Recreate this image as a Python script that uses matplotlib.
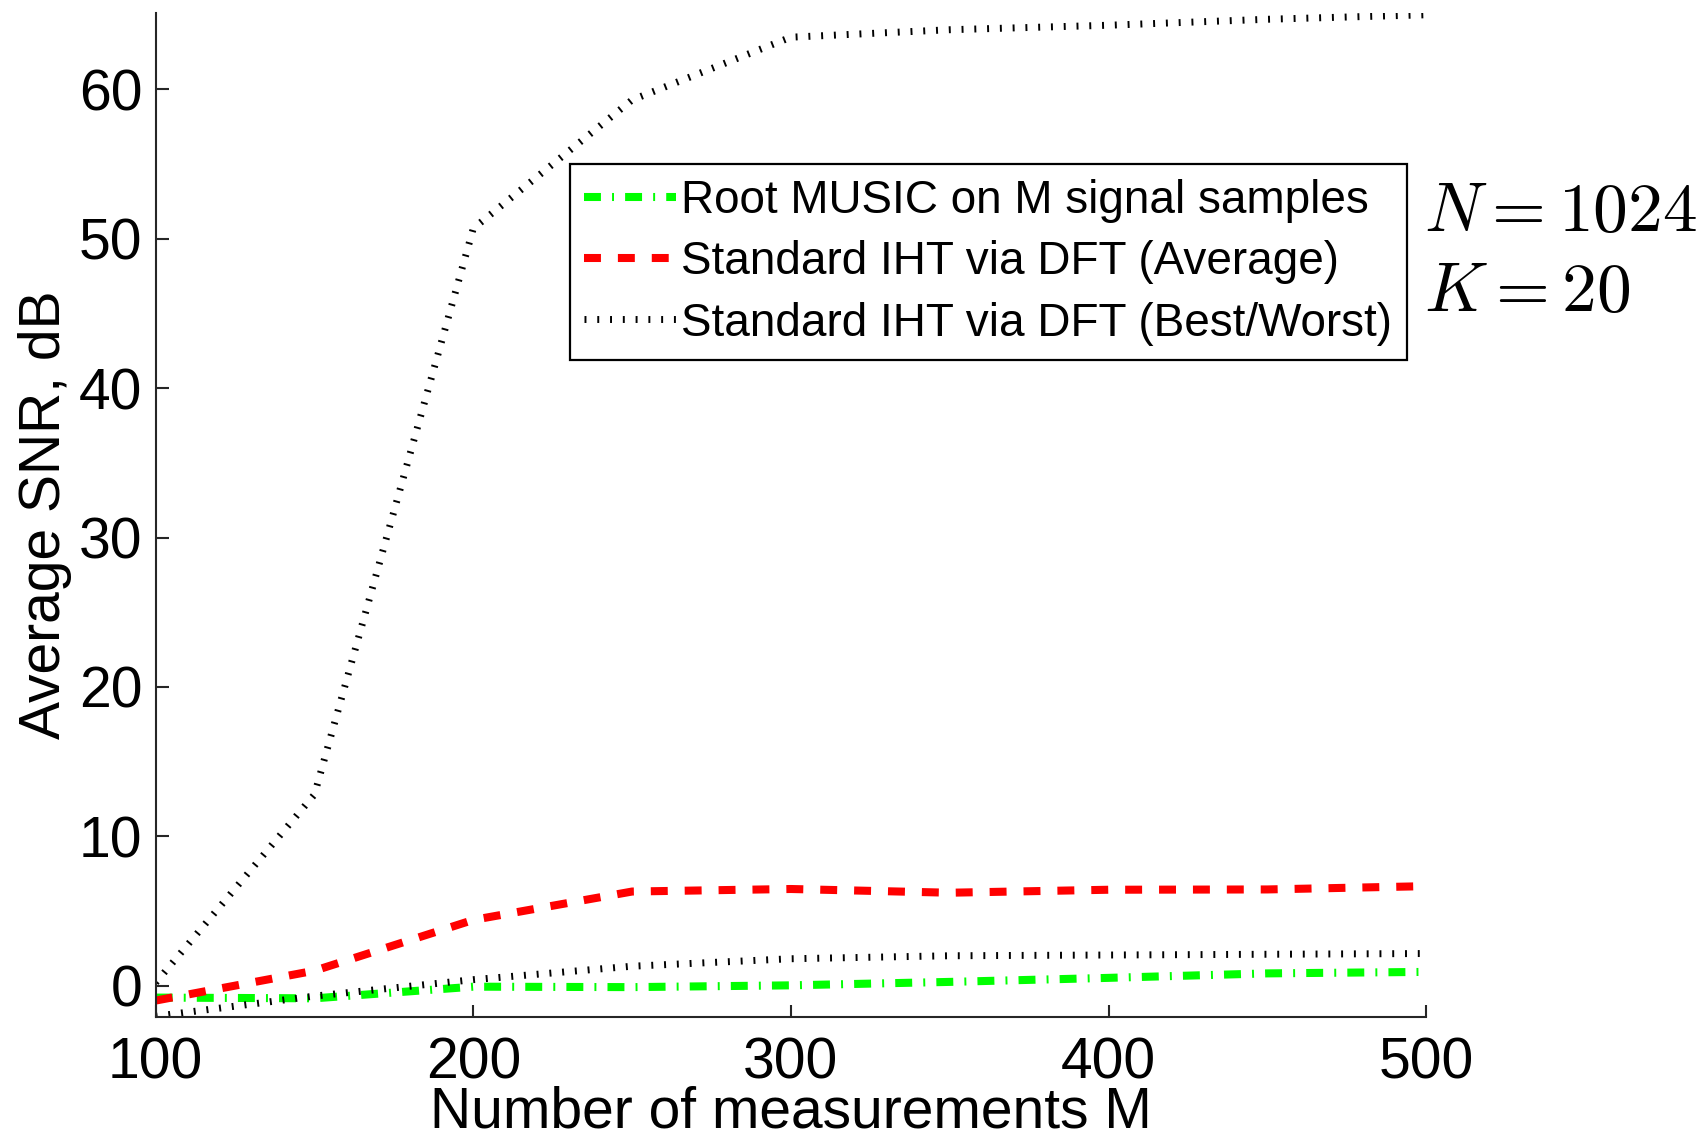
import numpy as np
import matplotlib
matplotlib.use("Agg")
import matplotlib.pyplot as plt

# measurements M
m_vals = [100, 150, 200, 250, 300, 350, 400, 450, 500]

# average SNR in dB
snr_music = [-0.8, -0.85, -0.07, -0.1, 0.02, 0.25, 0.52, 0.82, 0.92]
snr_iht_avg = [-1.0, 1.0, 4.4, 6.3, 6.47, 6.22, 6.42, 6.44, 6.66]
snr_iht_best = [0.2, 12.8, 50.7, 59.3, 63.5, 64.0, 64.3, 64.7, 65.0]
snr_iht_worst = [-2.05, -0.7, 0.4, 1.3, 1.8, 2.0, 2.05, 2.1, 2.15]

labels = ["Root MUSIC on M signal samples",
          "Standard IHT via DFT (Average)",
          "Standard IHT via DFT (Best/Worst)"]

plt.rcParams['font.family'] = ['Liberation Sans', 'DejaVu Sans']
plt.rcParams['mathtext.fontset'] = 'cm'
plt.rcParams['lines.scale_dashes'] = False

W, H = 1701, 1137
fig = plt.figure(figsize=(W / 100, H / 100), dpi=100)
ax = fig.add_axes([155.7 / W, 1 - 1016.7 / H, 1270.4 / W, 1004 / H])

lw = 5.8
l1, = ax.plot(m_vals, snr_music, color=(0, 1, 0), lw=lw, dashes=(12.2, 8, 1.4, 8),
              solid_capstyle='butt', dash_capstyle='butt')
l2, = ax.plot(m_vals, snr_iht_avg, color=(1, 0, 0), lw=lw, dashes=(12.2, 12.2),
              dash_capstyle='butt')
l3, = ax.plot(m_vals, snr_iht_best, color='black', lw=5.0, dashes=(1.4, 7.8),
              dash_capstyle='butt')
ax.plot(m_vals, snr_iht_worst, color='black', lw=5.0, dashes=(1.4, 7.8),
        dash_capstyle='butt')

ax.set_xlim(100, 500)
ax.set_ylim(-2.08, 65.14)
ax.set_xticks([100, 200, 300, 400, 500])
ax.set_yticks([0, 10, 20, 30, 40, 50, 60])

for s in ['top', 'right']:
    ax.spines[s].set_visible(False)
for s in ['left', 'bottom']:
    ax.spines[s].set_linewidth(1.5)
    ax.spines[s].set_color('#262626')

ax.tick_params(direction='in', length=9, width=1.5, color='#262626',
               labelsize=41, pad=9.5)
ax.tick_params(axis='x', pad=14)

ax.set_xlabel("Number of measurements M", fontsize=41, labelpad=-3.5)
ax.set_ylabel("Average SNR, dB", fontsize=41, labelpad=5)

leg = ax.legend([l1, l2, l3], labels, loc='upper left',
                bbox_to_anchor=(569.5 / W, 1 - 164 / H),
                bbox_transform=fig.transFigure, borderaxespad=0,
                fontsize=33, fancybox=False, framealpha=1,
                handlelength=2.0, handletextpad=0.12, labelspacing=0.38,
                borderpad=0.32)
leg.get_frame().set_edgecolor('black')
leg.get_frame().set_linewidth(1.6)

fig.text(1424 / W, 1 - 231 / H, r'$N=1024$', fontsize=50, va='baseline', ha='left')
fig.text(1424 / W, 1 - 311 / H, r'$K=20$', fontsize=50, va='baseline', ha='left')

fig.savefig("out.png", dpi=100)
